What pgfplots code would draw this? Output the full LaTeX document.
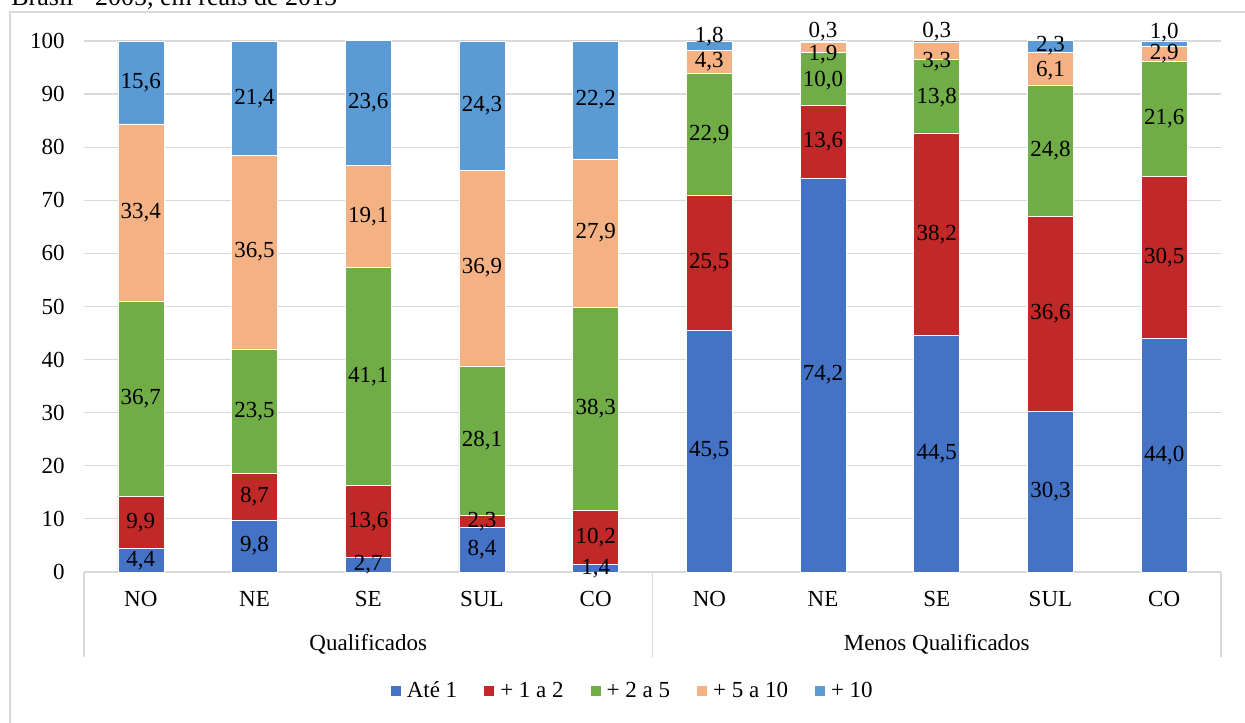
\documentclass[border=0pt]{standalone}
\usepackage{pgfplots}
\pgfplotsset{compat=1.18}
\usepackage{fontspec}
\setmainfont{Liberation Serif}
\definecolor{cA}{HTML}{4472C4}
\definecolor{cB}{RGB}{193,40,40}
\definecolor{cC}{HTML}{70AD47}
\definecolor{cD}{HTML}{F4B183}
\definecolor{cE}{HTML}{5B9BD5}
\definecolor{gridgray}{HTML}{D9D9D9}
\begin{document}
\begin{tikzpicture}[font=\fontsize{11.5pt}{13.8pt}\selectfont]
\useasboundingbox (0,0) rectangle (622.5pt,361pt);
\clip (0,0) rectangle (622.5pt,361pt);
\draw[gridgray, line width=0.6pt] (5pt,-10pt) rectangle (640pt,355pt);
\node[anchor=base west, inner sep=0pt, font=\fontsize{13pt}{15pt}\selectfont] at (5.5pt,358.3pt) {Brasil - 2005, em reais de 2015};
\begin{axis}[
  at={(42pt,75pt)}, anchor=south west,
  scale only axis, width=568.5pt, height=265.5pt,
  ybar stacked, bar width=23pt,
  xmin=-0.5, xmax=9.5, ymin=0, ymax=100,
  xtick={0,...,9},
  xticklabels={NO,NE,SE,SUL,CO,NO,NE,SE,SUL,CO},
  ytick={0,10,...,100},
  major tick length=0pt,
  axis line style={draw=none},
  ymajorgrids, grid style={gridgray, line width=0.6pt},
  /pgf/number format/assume math mode=true,
  yticklabel style={xshift=-6.2pt},
  xticklabel style={yshift=-6pt},
  clip=false,
  legend columns=-1,
  legend style={at={(0.4837,-0.224)}, anchor=center, draw=none, fill=none,
    /tikz/every odd column/.append style={column sep=0pt},
    /tikz/every even column/.append style={column sep=10.5pt},
    nodes={inner xsep=2.6pt}},
  legend image code/.code={\fill[#1] (0pt,-2.75pt) rectangle (5.5pt,2.75pt);},
]
\addplot[fill=cA, draw=white, line width=0.3pt] coordinates {(0,4.4) (1,9.8) (2,2.7) (3,8.4) (4,1.4) (5,45.5) (6,74.2) (7,44.5) (8,30.3) (9,44.0)};
\addplot[fill=cB, draw=white, line width=0.3pt] coordinates {(0,9.9) (1,8.7) (2,13.6) (3,2.3) (4,10.2) (5,25.5) (6,13.6) (7,38.2) (8,36.6) (9,30.5)};
\addplot[fill=cC, draw=white, line width=0.3pt] coordinates {(0,36.7) (1,23.5) (2,41.1) (3,28.1) (4,38.3) (5,22.9) (6,10.0) (7,13.8) (8,24.8) (9,21.6)};
\addplot[fill=cD, draw=white, line width=0.3pt] coordinates {(0,33.4) (1,36.5) (2,19.1) (3,36.9) (4,27.9) (5,4.3) (6,1.9) (7,3.3) (8,6.1) (9,2.9)};
\addplot[fill=cE, draw=white, line width=0.3pt] coordinates {(0,15.6) (1,21.4) (2,23.6) (3,24.3) (4,22.2) (5,1.8) (6,0.3) (7,0.3) (8,2.3) (9,1.0)};
\legend{Até 1,+ 1 a 2,+ 2 a 5,+ 5 a 10,+ 10}
\draw[gridgray, line width=0.6pt] (axis cs:-0.5,0) -- ++(0pt,-42.5pt);
\draw[gridgray, line width=0.6pt] (axis cs:4.5,0) -- ++(0pt,-42.5pt);
\draw[gridgray, line width=0.6pt] (axis cs:9.5,0) -- ++(0pt,-42.5pt);
\node at (axis cs:2,0) [yshift=-36pt] {Qualificados};
\node at (axis cs:7,0) [yshift=-36pt] {Menos Qualificados};
\end{axis}
\begin{axis}[
  at={(42pt,75pt)}, anchor=south west,
  scale only axis, width=568.5pt, height=265.5pt,
  xmin=-0.5, xmax=9.5, ymin=0, ymax=100,
  hide axis, clip=false,
]
\addplot[only marks, mark=none, nodes near coords, point meta=explicit symbolic,
  nodes near coords align={center},
  every node near coord/.append style={anchor=center, inner sep=0pt}]
  table[meta=lab] {
x y lab
0 2.2 4,4
0 9.35 9,9
0 32.65 36,7
0 67.7 33,4
0 92.2 15,6
1 4.9 9,8
1 14.15 8,7
1 30.25 23,5
1 60.25 36,5
1 89.2 21,4
2 1.35 2,7
2 9.5 13,6
2 36.85 41,1
2 66.95 19,1
2 88.3 23,6
3 4.2 8,4
3 9.55 2,3
3 24.75 28,1
3 57.25 36,9
3 87.85 24,3
4 0.7 1,4
4 6.5 10,2
4 30.75 38,3
4 63.85 27,9
4 88.9 22,2
5 22.75 45,5
5 58.25 25,5
5 82.45 22,9
5 96.05 4,3
5 100.8 1,8
6 37.1 74,2
6 81.0 13,6
6 92.6 10,0
6 97.4 1,9
6 101.7 0,3
7 22.25 44,5
7 63.6 38,2
7 89.4 13,8
7 96.1 3,3
7 101.7 0,3
8 15.15 30,3
8 48.6 36,6
8 79.3 24,8
8 94.4 6,1
8 99.2 2,3
9 22.0 44,0
9 59.25 30,5
9 85.3 21,6
9 97.6 2,9
9 101.5 1,0
};
\end{axis}
\end{tikzpicture}
\end{document}
